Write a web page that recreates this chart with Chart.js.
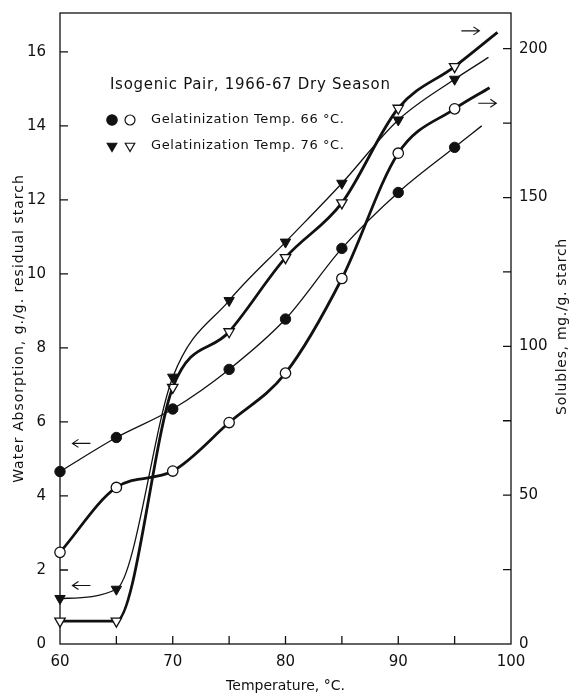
<!DOCTYPE html>
<html><head><meta charset="utf-8">
<script src="https://cdn.jsdelivr.net/npm/chart.js@4.4.1/dist/chart.umd.min.js"></script>
<style>html,body{margin:0;padding:0;background:#fff;}#wrap{width:572px;height:696px;}</style>
</head><body><div id="wrap"><canvas id="c" width="572" height="696"></canvas></div>
<script>
// ---- data ----
const temps = [60, 65, 70, 75, 80, 85, 90, 95];
// Water absorption, g./g. residual starch (left axis, filled markers)
const absorption66 = [4.66, 5.58, 6.35, 7.42, 8.78, 10.69, 12.20, 13.42];
const absorption76 = [1.23, 1.48, 7.21, 9.28, 10.86, 12.45, 14.16, 15.26];
// Solubles, mg./g. starch (right axis, open markers)
const solubles66 = [30.8, 52.6, 58.1, 74.4, 91.0, 122.8, 164.9, 179.8];
const solubles76 = [7.7, 7.7, 86.2, 104.9, 129.8, 148.2, 180.0, 194.0];
// where each drawn curve ends beyond the last measured point [temp, value]
const absorption66End = [97.4, 14.0];
const absorption76End = [98.0, 15.85];
const solubles66End = [98.1, 186.9];
const solubles76End = [98.8, 205.5];
// axis arrows [temp, value]
const arrowsLeftAxis = [[61.9, 5.42], [61.9, 1.58]];
const arrowsRightAxis = [[96.4, 206], [97.9, 181.7]];
// ticks
const xTickLabels = [60, 70, 80, 90, 100];
const leftTickLabels = [0, 2, 4, 6, 8, 10, 12, 14, 16];
const rightTickLabels = [0, 50, 100, 150, 200];

const titleText = 'Isogenic Pair, 1966-67 Dry Season';
const legend66 = 'Gelatinization Temp. 66 °C.';
const legend76 = 'Gelatinization Temp. 76 °C.';
const leftAxisTitle = 'Water Absorption, g./g. residual starch';
const rightAxisTitle = 'Solubles, mg./g. starch';
const xAxisTitle = 'Temperature, °C.';

const INK = '#111';
const FONT = 'DejaVu Sans';

function pts(vals, end) {
  return temps.map((t, i) => ({x: t, y: vals[i]})).concat([{x: end[0], y: end[1]}]);
}
function radii(r) { return temps.map(() => r).concat([0]); }

const datasets = [
  {data: pts(absorption66, absorption66End), yAxisID: 'yA', borderWidth: 1.3,
   pointStyle: 'circle', pointRadius: radii(5.2), pointBackgroundColor: INK, pointBorderWidth: 1},
  {data: pts(absorption76, absorption76End), yAxisID: 'yA', borderWidth: 1.3,
   pointStyle: 'triangle', pointRotation: 180, pointRadius: radii(6), pointBackgroundColor: INK, pointBorderWidth: 1},
  {data: pts(solubles66, solubles66End), yAxisID: 'yS', borderWidth: 2.8,
   pointStyle: 'circle', pointRadius: radii(5.2), pointBackgroundColor: '#fff', pointBorderWidth: 1.3},
  {data: pts(solubles76, solubles76End), yAxisID: 'yS', borderWidth: 2.8,
   pointStyle: 'triangle', pointRotation: 180, pointRadius: radii(6), pointBackgroundColor: '#fff', pointBorderWidth: 1.3}
];
datasets.forEach(d => {
  d.borderColor = INK; d.pointBorderColor = INK; d.fill = false;
  d.cubicInterpolationMode = 'monotone'; d.clip = false;
});

function drawArrow(ctx, cx, cy, dir) {
  const half = 9;
  ctx.beginPath();
  ctx.moveTo(cx - half, cy); ctx.lineTo(cx + half, cy);
  const tip = dir > 0 ? cx + half : cx - half;
  ctx.moveTo(tip - dir * 6, cy - 4); ctx.lineTo(tip, cy); ctx.lineTo(tip - dir * 6, cy + 4);
  ctx.stroke();
}
function setSpacing(ctx, s) { if ('letterSpacing' in ctx) ctx.letterSpacing = s; }

const framePlugin = {
  id: 'frame',
  beforeDatasetsDraw(chart) {
    const {ctx, chartArea: a, scales} = chart;
    ctx.save();
    ctx.strokeStyle = INK; ctx.lineWidth = 1.3;
    ctx.strokeRect(a.left, a.top, a.right - a.left, a.bottom - a.top);
    ctx.beginPath();
    scales.x.ticks.forEach(t => {
      if (t.value <= scales.x.min || t.value >= scales.x.max) return;
      const px = scales.x.getPixelForValue(t.value);
      ctx.moveTo(px, a.bottom); ctx.lineTo(px, a.bottom - 8);
    });
    scales.yA.ticks.forEach(t => {
      if (t.value <= 0) return;
      const py = scales.yA.getPixelForValue(t.value);
      ctx.moveTo(a.left, py); ctx.lineTo(a.left + 8, py);
    });
    scales.yS.ticks.forEach(t => {
      if (t.value <= 0) return;
      const py = scales.yS.getPixelForValue(t.value);
      ctx.moveTo(a.right, py); ctx.lineTo(a.right - 8, py);
    });
    ctx.stroke();
    ctx.restore();
  },
  afterDraw(chart) {
    const {ctx, chartArea: a, scales} = chart;
    ctx.save();
    ctx.strokeStyle = INK; ctx.fillStyle = INK; ctx.lineWidth = 1.1;
    arrowsLeftAxis.forEach(([t, v]) => drawArrow(ctx, scales.x.getPixelForValue(t), scales.yA.getPixelForValue(v), -1));
    arrowsRightAxis.forEach(([t, v]) => drawArrow(ctx, scales.x.getPixelForValue(t), scales.yS.getPixelForValue(v), 1));

    const midY = (a.top + a.bottom) / 2;
    // axis titles (both read bottom to top)
    ctx.textAlign = 'center'; ctx.textBaseline = 'middle';
    ctx.font = '14px "' + FONT + '"';
    setSpacing(ctx, '1px');
    ctx.save();
    ctx.translate(19, midY); ctx.rotate(-Math.PI / 2);
    ctx.fillText(leftAxisTitle, 0, 0);
    ctx.restore();
    setSpacing(ctx, '0.7px');
    ctx.save();
    ctx.translate(562, midY - 2); ctx.rotate(-Math.PI / 2);
    ctx.fillText(rightAxisTitle, 0, 0);
    ctx.restore();

    // legend block
    ctx.textAlign = 'left'; ctx.textBaseline = 'middle';
    ctx.font = '15px "' + FONT + '"';
    setSpacing(ctx, '0.7px');
    ctx.fillText(titleText, 110, 85);
    ctx.font = '13px "' + FONT + '"';
    setSpacing(ctx, '0.6px');
    ctx.fillText(legend66, 151, 120);
    ctx.fillText(legend76, 151, 146);
    setSpacing(ctx, '0px');
    const dp = Chart.helpers.drawPoint;
    ctx.lineWidth = 1.2;
    ctx.fillStyle = INK;
    dp(ctx, {pointStyle: 'circle', radius: 5.2, borderWidth: 1, rotation: 0}, 112, 120);
    ctx.fillStyle = '#fff';
    dp(ctx, {pointStyle: 'circle', radius: 5, borderWidth: 1.2, rotation: 0}, 130, 120);
    ctx.fillStyle = INK;
    dp(ctx, {pointStyle: 'triangle', radius: 5.5, borderWidth: 1, rotation: 180}, 112, 146);
    ctx.fillStyle = '#fff';
    dp(ctx, {pointStyle: 'triangle', radius: 5.5, borderWidth: 1.2, rotation: 180}, 130, 146);
    ctx.restore();
  }
};

Chart.defaults.font.family = FONT;
Chart.defaults.color = INK;

function fixVertical(w) {
  return s => { s.width = w; s.paddingTop = 0; s.paddingBottom = 0; };
}

new Chart(document.getElementById('c'), {
  type: 'line',
  data: {datasets},
  plugins: [framePlugin],
  options: {
    responsive: false, animation: false,
    layout: {padding: {top: 13, left: 0, right: 0, bottom: 0}},
    plugins: {legend: {display: false}, tooltip: {enabled: false}},
    scales: {
      x: {
        type: 'linear', min: 60, max: 100,
        grid: {display: false, drawTicks: false}, border: {display: false},
        ticks: {stepSize: 5, autoSkip: false, maxRotation: 0, padding: 9, font: {size: 15},
                callback: v => xTickLabels.includes(v) ? String(v) : ''},
        title: {display: true, text: xAxisTitle, font: {size: 14}, padding: {top: 0, bottom: 1}},
        afterFit: s => { s.height = 52; s.paddingLeft = 0; s.paddingRight = 0; }
      },
      yA: {
        type: 'linear', position: 'left', min: 0, max: 17.05,
        grid: {display: false, drawTicks: false}, border: {display: false},
        ticks: {stepSize: 2, includeBounds: false, autoSkip: false, padding: 14, font: {size: 15},
                callback: v => leftTickLabels.includes(v) ? String(v) : ''},
        afterFit: fixVertical(60)
      },
      yS: {
        type: 'linear', position: 'right', min: 0, max: 212,
        grid: {display: false, drawTicks: false}, border: {display: false},
        ticks: {stepSize: 25, includeBounds: false, autoSkip: false, padding: 8, font: {size: 15},
                callback: v => rightTickLabels.includes(v) ? String(v) : ''},
        afterFit: fixVertical(61)
      }
    }
  }
});
</script></body></html>
